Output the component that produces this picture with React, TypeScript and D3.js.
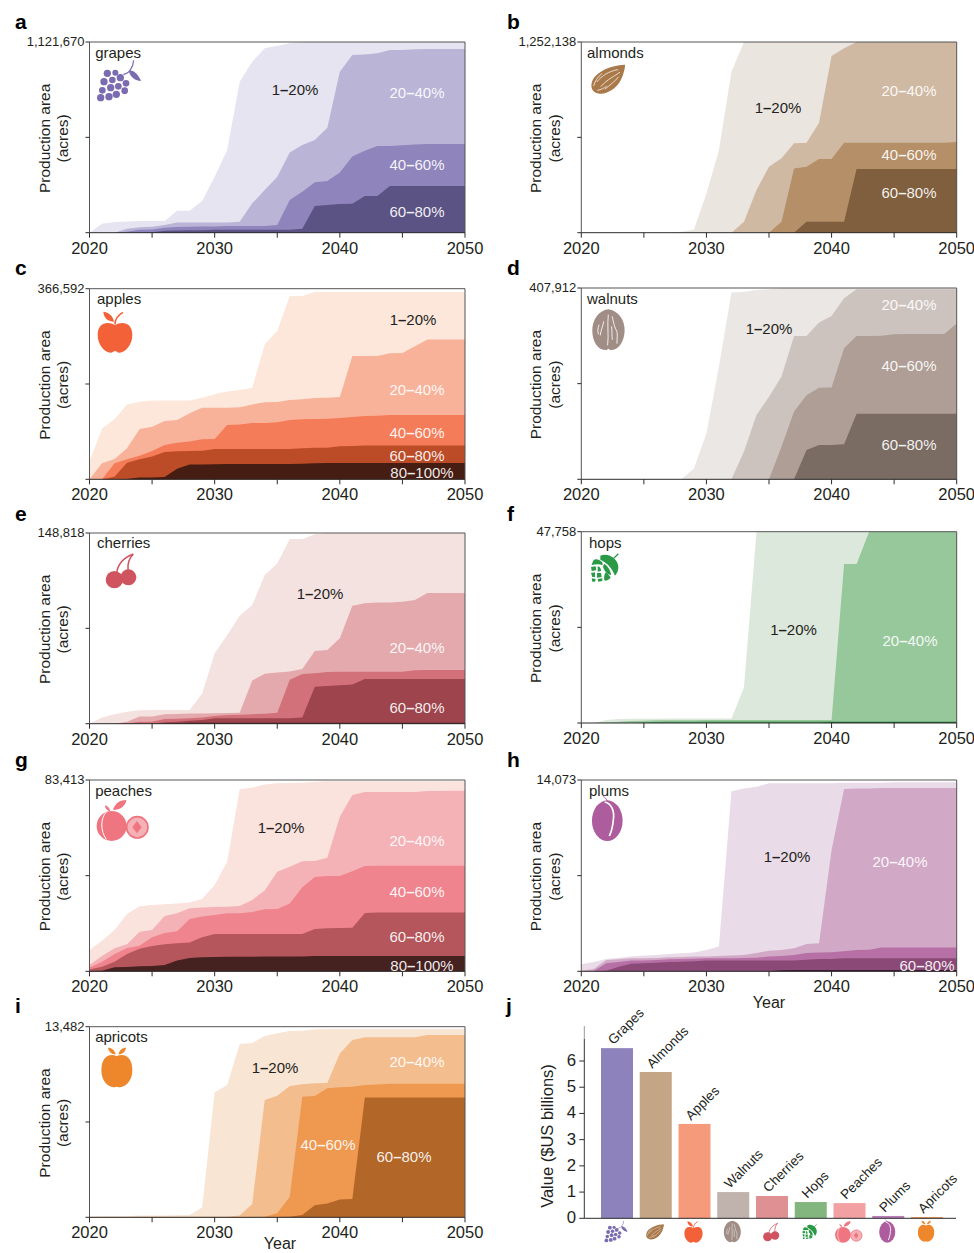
import * as d3 from "d3";

const FONT = "'Liberation Sans', Arial, sans-serif";
const INK = "#231f20";
const YEARS = d3.range(2020, 2051);
const X_TICKS = [2020, 2025, 2030, 2035, 2040, 2045, 2050];
const X_LABELS = [2020, 2030, 2040, 2050];

// upper edge of every class, percent of the panel's axis maximum
const grapes1 = [0,4.7,5.6,5.9,6.1,6.1,6.1,11.5,11.5,16.6,29.4,43.4,79.2,89.7,96.7,98,99.3,100,100,100,100,100,100,100,100,100,100,100,100,100,100];
const grapes2 = [0,0,0,2.1,2.8,3.1,4,5.4,5.4,5.4,5.4,5.4,5.8,15.4,22.4,29.4,42.1,46,48.6,55,84.4,93.2,93.5,94.1,95.8,95.8,96.2,96.3,96.3,96.3,96.3];
const grapes3 = [0,0,0,0.5,1.5,1.7,2.6,3,3.1,3.3,3.3,3.5,3.5,3.5,3.5,4,17.1,21.5,26.4,27.1,31.6,39.9,43,45.5,45.5,45.8,46.3,46.5,46.5,46.5,46.5];
const grapes4 = [0,0,0,0,0,0.2,1,1.2,1.3,1.3,1.5,1.5,1.5,1.5,1.5,1.5,1.5,2.1,14,14.5,15,15.2,19.2,19.2,24.5,24.5,24.5,24.5,24.5,24.5,24.5];

const almonds1 = [0,0,0,0,0,0,0,0,0.5,1.6,20.6,43.4,84.4,100,100,100,100,100,100,100,100,100,100,100,100,100,100,100,100,100,100];
const almonds2 = [0,0,0,0,0,0,0,0,0,0,0,0,0,5.8,22.4,34.6,39,46.9,47.2,57.7,92.7,96.7,100,100,100,100,100,100,100,100,100];
const almonds3 = [0,0,0,0,0,0,0,0,0,0,0,0,0,0,0,0,5.8,33.7,34.6,38.6,38.6,47.2,47.2,47.2,47.2,47.2,47.2,47.2,47.2,47.2,47.6];
const almonds4 = [0,0,0,0,0,0,0,0,0,0,0,0,0,0,0,0,0,0,5.8,5.8,5.8,5.8,33.4,33.4,33.4,33.4,33.4,33.4,33.4,33.4,33.4];

const apples1 = [9.3,26.7,31.5,39.3,40.7,41.3,41.4,41.4,41.4,42.8,44.6,46,46.9,48,70.8,78,96.2,96.2,98.3,98.3,98.3,98.3,98.3,98.3,98.3,98.3,98.3,98.3,98.3,98.3,98.3];
const apples2 = [0,8.4,10.7,16.3,26.4,27.6,30.6,31.1,34.6,37.6,37.6,37.6,37.8,39.3,40.4,40.6,41.6,42,42.7,42.8,43.2,64.7,64.7,64.7,66.1,66.3,69.8,73.3,73.3,73.3,73.3];
const apples3 = [0,0,8.4,10.5,12.4,14.9,18,19.2,19.8,21,21.2,28.5,28.8,29.5,29.5,29.9,31.1,31.5,31.6,31.8,32.2,32.7,33.2,33.4,33.7,33.7,33.7,33.7,33.7,33.7,33.7];
const apples4 = [0,0,1.4,8.7,10.5,11.9,14.3,14.7,14.9,15,15.9,15.9,15.9,15.9,15.9,15.9,15.9,16.3,16.6,16.6,17.3,17.5,17.7,17.7,17.7,17.7,17.7,17.7,17.7,17.7,17.7];
const apples5 = [0,0,0,0.2,0.9,0.9,1.2,5.6,7.7,7.7,7.9,8,8,8,8,8,8,8.2,8.4,8.6,8.6,8.6,8.6,8.6,8.6,8.6,8.6,8.6,8.6,8.6,8.6];

const walnuts1 = [0,0,0,0,0,0,0,0,0,5.7,24,58.9,97.7,98,99,99.3,100,100,100,100,100,100,100,100,100,100,100,100,100,100,100];
const walnuts2 = [0,0,0,0,0,0,0,0,0,0,0,0,0,14.5,33.6,43.2,53.7,74.9,74.9,82,85.4,94.6,99.3,99.3,99.3,99.3,99.3,99.3,99.3,99.3,99.3];
const walnuts3 = [0,0,0,0,0,0,0,0,0,0,0,0,0,0,0,0,17,35.4,44,47.9,48,68.5,74.9,74.9,75,75.8,76,76,76,76,81.5];
const walnuts4 = [0,0,0,0,0,0,0,0,0,0,0,0,0,0,0,0,0,0,15.3,17.9,17.9,18.3,34.3,34.3,34.3,34.3,34.3,34.3,34.3,34.3,34.3];

const cherries1 = [0,3.3,5,6.3,7,7.2,7.2,7.2,7.2,15.9,36.9,46.5,56.6,62.2,78,84,96.9,96.9,99.3,100,100,100,100,100,100,100,100,100,100,100,100];
const cherries2 = [0,0,0,1,3.8,3.8,4.9,5.1,5.3,5.4,5.5,5.6,5.8,22.6,26.2,26.9,27.4,28.7,38.1,38.6,44.8,61.9,63.1,63.6,63.6,64,64.9,68.5,68.5,68.5,68.5];
const cherries3 = [0,0,0,0.3,1,1,2.4,2.6,2.8,3.3,4,4.5,4.7,5,5.2,5.8,23.1,26,26.4,27.1,27.3,27.3,27.3,27.3,27.3,27.3,28,28.1,28.1,28.1,28.1];
const cherries4 = [0,0,0,0,0,0,0.7,1,1.5,2,2.8,2.8,2.8,2.8,2.8,2.8,2.8,3.3,19.4,19.8,20.1,20.5,23.4,23.4,23.4,23.4,23.4,23.4,23.4,23.4,23.4];
const cherries5 = [0,0,0,0,0,0,0,0.2,0.5,0.5,0.5,0.5,0.5,0.5,0.5,0.5,0.5,0.5,0.5,0.5,0.5,0.5,0.5,0.5,0.5,0.5,0.5,0.5,0.5,0.5,0.5];

const hops1 = [0,0,1.6,2.1,2.2,2.2,2.2,2.3,2.3,2.3,2.3,2.3,2.3,18.5,100,100,100,100,100,100,100,100,100,100,100,100,100,100,100,100,100];
const hops2 = [0,0,0.3,0.7,1,1.2,1.4,1.5,1.5,1.5,1.6,1.6,1.6,1.6,1.6,1.6,1.6,1.6,1.6,1.6,1.6,83.1,83.1,100,100,100,100,100,100,100,100];
const hops3 = [0,0,0,0,0,0.3,0.5,0.6,0.7,0.7,0.8,0.8,0.8,0.8,0.8,0.8,0.8,0.8,0.8,0.8,0.8,0.8,0.8,0.8,0.8,0.8,0.8,0.8,0.8,0.8,0.8];
const hops4 = [0,0,0,0,0,0,0,0,0,0,0,0,0,0,0,0,0,0,0,0,0.4,0.4,0.4,0.4,0.4,0.4,0.4,0.4,0.4,0.4,0.4];

const peaches1 = [11.1,16,21.6,30,34,34.7,35.1,35.5,35.9,37.8,45.1,57.3,95.1,96,97.6,98.3,98.4,98.6,99.1,99.3,99.3,99.3,99.3,99.3,99.3,99.3,99.3,99.3,99.3,99.3,99.3];
const peaches2 = [3.3,8,12,14.1,20.7,21.6,28.9,30.3,32.9,33.4,33.6,33.8,34.1,37.3,42.2,52.1,54.7,57.5,57.7,59.4,80.8,92.2,93.7,93.7,93.7,93.7,93.7,94.3,94.3,94.4,94.4];
const peaches3 = [2,5,9,12.2,13.4,17.8,20,21,27.4,28.7,29.4,30.3,30.3,31,32.4,32.6,35.5,43.9,49.3,49.8,49.8,52.3,55,55.2,55.2,55.2,55.2,55.2,55.2,55.2,55.2];
const peaches4 = [1,2.4,5,9,11.8,13.2,14.1,14.6,15,17.8,19.5,19.5,19.5,19.5,19.5,19.5,19.5,19.5,22.1,22.5,22.6,22.8,30.5,30.8,30.8,30.8,30.8,30.8,30.8,30.8,30.8];
const peaches5 = [0.2,0.3,2.1,2.3,2.6,2.8,3.3,5.6,7,7.3,7.5,7.6,7.6,7.6,7.7,7.7,7.7,7.8,8,8,8,8,8,8,8,8,8,8,8,8,8];

const plums1 = [3.7,4.9,6.4,7.1,7.7,8.2,8.5,9,9.4,9.8,11.1,12.9,94.1,95.6,96.5,98.3,98.3,98.3,98.3,98.3,98.3,98.6,98.6,98.6,98.6,98.8,98.8,98.8,98.8,98.8,98.8];
const plums2 = [0.3,1.2,5.9,6.3,6.8,6.8,7,7.3,7.5,7.7,7.8,8,8.2,8.5,9.6,10.8,11.1,12,14.3,14.6,63.4,95.3,95.5,95.6,95.8,95.8,95.8,95.8,95.8,95.8,95.8];
const plums3 = [0,0.2,4.2,4.9,5.6,5.7,5.9,6.3,6.4,6.6,6.8,6.8,6.8,7,7.1,7.7,8,8.5,9.6,9.8,9.9,10.5,11.1,11.3,12.4,12.4,12.4,12.4,12.4,12.4,12.4];
const plums4 = [0,0,0.3,2.4,4,4.2,4.5,4.9,5,5.2,5.6,5.7,5.7,5.7,5.7,5.7,5.7,5.7,6.1,6.4,6.4,6.8,6.8,6.8,6.8,6.8,6.8,6.8,6.8,6.8,6.8];
const plums5 = [0,0,0,0,0,0,0,0,0,0,0,0,0,0,0,0,0.5,0.7,0.7,0.7,0.7,0.7,0.7,0.7,0.7,0.7,0.7,0.7,0.7,0.7,0.7];

const apricots1 = [0.3,0.5,0.5,0.5,0.9,0.9,1,1.1,1.2,5.2,65.6,69.4,90.9,91.4,95.1,96.5,97.7,97.9,98.6,98.8,98.8,98.8,98.8,98.8,98.8,98.8,98.8,98.8,98.8,98.8,98.8];
const apricots2 = [0,0.1,0.2,0.2,0.3,0.3,0.3,0.3,0.3,0.3,0.3,0.3,0.9,7,61.5,63.8,68.9,69.8,70.3,70.5,86,93,94.4,94.4,94.4,94.4,94.4,95.6,95.6,95.6,95.6];
const apricots3 = [0.2,0.2,0.2,0.2,0.2,0.2,0.2,0.2,0.2,0.2,0.2,0.2,0.2,0.2,0.3,2.1,10.8,63.3,63.6,67.7,68.2,68.5,69.4,69.7,70.1,70.1,70.1,70.1,70.1,70.1,70.1];
const apricots4 = [0.1,0.1,0.1,0.1,0.1,0.1,0.1,0.1,0.1,0.1,0.1,0.1,0.1,0.1,0.1,0.1,0.3,1.2,6.3,7.3,9.4,9.6,62.8,62.8,62.8,62.8,62.8,62.8,62.8,62.8,62.8];

// panel j
const CROPS = ["Grapes", "Almonds", "Apples", "Walnuts", "Cherries", "Hops", "Peaches", "Plums", "Apricots"];
const CROP_VALUES = [6.49, 5.58, 3.6, 1.0, 0.85, 0.62, 0.58, 0.09, 0.05];
const CROP_COLORS = ["#8e82bc", "#c4a585", "#f59a7a", "#c0b2ac", "#de9093", "#83b67e", "#f2a0a2", "#b87fb6", "#ee9b60"];
const VALUE_TICKS = [0, 1, 2, 3, 4, 5, 6];

const CLASS_NAMES = [["1", "20%"], ["20", "40%"], ["40", "60%"], ["60", "80%"], ["80", "100%"]];

const COL_L = [89.5, 465];
const COL_R = [581.3, 956.7];

const PANELS = [
  { letter: "a", lx: 15, ly: 29, name: "grapes", icon: "grapes", max: "1,121,670", xr: COL_L, yr: [232.7, 42], tx: 95.2, ty: 58, ix: 119, iy: 81,
    series: [grapes1, grapes2, grapes3, grapes4], colors: ["#e6e4f1", "#bab4d7", "#8f84bb", "#5c5385"],
    labels: [[0, 295, 90], [1, 417, 93], [2, 417, 165], [3, 417, 212]] },
  { letter: "b", lx: 507, ly: 29, name: "almonds", icon: "almonds", max: "1,252,138", xr: COL_R, yr: [232.7, 42], tx: 587, ty: 58, ix: 607.7, iy: 79,
    series: [almonds1, almonds2, almonds3, almonds4], colors: ["#ebe5df", "#cfb9a3", "#b58f68", "#7f5f3e"],
    labels: [[0, 778, 108], [1, 909, 91], [2, 909, 155], [3, 909, 193]] },
  { letter: "c", lx: 15, ly: 275, name: "apples", icon: "apples", max: "366,592", xr: COL_L, yr: [479.3, 288.7], tx: 97, ty: 304, ix: 115, iy: 331.7,
    series: [apples1, apples2, apples3, apples4, apples5], colors: ["#fde7da", "#f9b29a", "#f47c58", "#bc4c28", "#451d12"],
    labels: [[0, 413, 320], [1, 417, 390], [2, 417, 433], [3, 417, 456], [4, 422, 473]] },
  { letter: "d", lx: 507, ly: 275, name: "walnuts", icon: "walnuts", max: "407,912", xr: COL_R, yr: [479.3, 288], tx: 587, ty: 304, ix: 608.3, iy: 330,
    series: [walnuts1, walnuts2, walnuts3, walnuts4], colors: ["#eae7e4", "#cdc3be", "#ae9e95", "#7b6c63"],
    labels: [[0, 769, 328.5], [1, 909, 305], [2, 909, 366], [3, 909, 445]] },
  { letter: "e", lx: 15, ly: 521, name: "cherries", icon: "cherries", max: "148,818", xr: COL_L, yr: [723.7, 533], tx: 97, ty: 548, ix: 120.7, iy: 570,
    series: [cherries1, cherries2, cherries3, cherries4, cherries5], colors: ["#f4e2e0", "#e4a9ad", "#d3717b", "#9e444d", "#4d1e22"],
    labels: [[0, 320, 594], [1, 417, 647.5], [3, 417, 708]] },
  { letter: "f", lx: 507, ly: 521, name: "hops", icon: "hops", max: "47,758", xr: COL_R, yr: [723, 531.7], tx: 589, ty: 548, ix: 605, iy: 567.7,
    series: [hops1, hops2, hops3, hops4], colors: ["#dde8dc", "#97c89c", "#4c9f5a", "#1c5a2c"],
    labels: [[0, 793.5, 630], [1, 910, 641]] },
  { letter: "g", lx: 15, ly: 767, name: "peaches", icon: "peaches", max: "83,413", xr: COL_L, yr: [971.3, 780], tx: 95.2, ty: 796, ix: 122.3, iy: 820,
    series: [peaches1, peaches2, peaches3, peaches4, peaches5], colors: ["#fae2dd", "#f5b2b6", "#ef848e", "#b5565c", "#45211f"],
    labels: [[0, 281, 827.5], [1, 417, 840.5], [2, 417, 891.5], [3, 417, 937], [4, 422, 966]] },
  { letter: "h", lx: 507, ly: 767, name: "plums", icon: "plums", max: "14,073", xr: COL_R, yr: [971.3, 780], tx: 589, ty: 796, ix: 607.3, iy: 820,
    series: [plums1, plums2, plums3, plums4, plums5], colors: ["#e9dce8", "#d1a8c6", "#b770a5", "#8a4977", "#381a30"],
    labels: [[0, 787, 857], [1, 900, 862], [3, 927, 966]], year: 1008, yearX: 769 },
  { letter: "i", lx: 15, ly: 1013, name: "apricots", icon: "apricots", max: "13,482", xr: COL_L, yr: [1217.3, 1026.7], tx: 95.2, ty: 1042, ix: 116.7, iy: 1068.3,
    series: [apricots1, apricots2, apricots3, apricots4], colors: ["#f9e5d4", "#f4bd8e", "#ee9850", "#b26628"],
    labels: [[0, 275, 1068], [1, 417, 1062], [2, 328, 1145], [3, 404, 1156.5]], year: 1249.4, yearX: 280 },
];

const GRAPE_DOTS = [[-35, -23, 11], [-11, -25, 9], [-45, 2, 11], [-20, -3, 10], [4, -10, 11], [21, 7, 10], [-50, 28, 10], [-25, 20, 11], [-2, 16, 10], [17, 29, 10], [-55, 50, 11], [-30, 47, 11], [-8, 40, 11]];

const HOP_SCALES = [
  "M-14,-36 C6,-46 38,-30 40,-4 C41,8 36,18 30,24 C24,8 10,-14 -14,-24Z",
  "M-36,-20 C-30,-28 -22,-26 -10,-18 C-6,-14 -6,-10 -8,-8 C-18,-12 -30,-10 -40,-8Z",
  "M-2,-12 C8,-6 18,10 18,22 C8,22 -4,10 -6,-4Z",
  "M2,14 C10,20 18,28 16,32 C8,40 0,40 -2,38 C-4,28 -2,20 2,14Z",
  "M-42,-2 L-28,-4 L-26,8 L-40,10Z",
  "M-22,-4 C-14,-4 -12,6 -12,10 L-22,12Z",
  "M-42,16 L-30,14 L-30,28 L-38,28Z",
  "M-24,16 L-12,16 L-10,28 L-24,30Z",
  "M-40,32 L-28,34 L-30,42 L-38,42Z",
  "M-22,34 L-8,32 L-8,40 L-20,42Z",
];

// icons are drawn in zoomed units around their centre, s scales them down
function Icon({ kind, x, y, s = 1 / 3 }: { kind: string; x: number; y: number; s?: number }) {
  const t = `translate(${x},${y}) scale(${s})`;
  if (kind === "grapes") {
    return (
      <g transform={t} fill="#7b6bb0">
        {GRAPE_DOTS.map((d, i) => <circle key={i} cx={d[0]} cy={d[1]} r={d[2]} />)}
        <path d="M13,-20 C30,-22 42,-40 44,-62" fill="none" stroke="#7b6bb0" strokeWidth={3.5} />
        <path d="M30,-30 C40,-36 58,-20 66,0 C50,0 32,-12 30,-30Z" />
      </g>
    );
  }
  if (kind === "almonds") {
    return (
      <g transform={t}>
        <path d="M52,-43 C20,-42 -20,-30 -40,-5 C-55,15 -52,42 -25,44 C5,46 35,20 45,-10 C50,-25 52,-35 52,-43Z" fill="#a9794a" />
        <g fill="none" stroke="#fff" strokeWidth={2.2} strokeLinecap="round">
          <path d="M30,-28 C5,-24 -18,-10 -32,8" />
          <path d="M36,-20 C20,-8 0,0 -20,22" />
          <path d="M32,-6 C22,8 6,18 -8,30" />
          <path d="M-42,20 C-38,6 -30,-6 -18,-16" />
          <path d="M-30,34 C-20,32 -12,28 -4,22" />
        </g>
      </g>
    );
  }
  if (kind === "apples") {
    return (
      <g transform={t} fill="#f26138">
        <path d="M0,-20 C-20,-32 -52,-30 -52,10 C-52,40 -30,63 -14,63 C-6,63 -4,58 0,58 C4,58 6,63 14,63 C30,63 52,40 52,10 C52,-30 20,-32 0,-20Z" />
        <path d="M-35,-60 C-20,-58 -6,-48 -3,-30 C-20,-30 -34,-40 -35,-60Z" />
        <path d="M0,-22 C0,-34 6,-48 24,-58" fill="none" stroke="#f26138" strokeWidth={5} />
      </g>
    );
  }
  if (kind === "walnuts") {
    return (
      <g transform={t}>
        <path d="M0,-62 C30,-58 50,-30 49,2 C48,36 30,60 8,60 C4,60 2,56 0,56 C-2,56 -4,60 -8,60 C-30,60 -48,36 -48,2 C-48,-30 -30,-58 0,-62Z" fill="#a08d85" />
        <g fill="none" stroke="#fff" strokeWidth={2.5} strokeLinecap="round">
          <path d="M0,-45 C-4,-15 2,15 -2,45" />
          <path d="M12,-40 C16,-20 18,-10 26,5 C28,15 26,25 26,40" />
          <path d="M-14,-25 C-16,-10 -22,-2 -24,15" />
          <path d="M-28,-15 C-32,-5 -32,5 -30,12" />
          <path d="M10,-10 C12,5 10,15 12,28" />
        </g>
      </g>
    );
  }
  if (kind === "cherries") {
    return (
      <g transform={t} fill="#cf5460">
        <circle cx={-19} cy={29} r={26} />
        <circle cx={23} cy={22} r={24} />
        <path d="M-12,8 C-8,-18 10,-38 38,-48 M22,0 C20,-18 26,-36 38,-48" fill="none" stroke="#cf5460" strokeWidth={4.5} />
      </g>
    );
  }
  if (kind === "hops") {
    return (
      <g transform={t} fill="#2a9a47">
        {HOP_SCALES.map((d, i) => <path key={i} d={d} />)}
        <path d="M26,-28 L40,-42" stroke="#2a9a47" strokeWidth={4} />
      </g>
    );
  }
  if (kind === "peaches") {
    return (
      <g transform={t}>
        <circle cx={-32} cy={18} r={45} fill="#ef7580" />
        <path d="M-48,-24 C-66,-6 -66,34 -48,58" fill="none" stroke="#fff" strokeWidth={3} />
        <path d="M-28,-30 C-22,-48 -10,-60 12,-60 C10,-42 -6,-30 -28,-30Z M-52,-44 C-44,-42 -38,-36 -36,-26 C-46,-28 -52,-34 -52,-44Z" fill="#ef7580" />
        <circle cx={45} cy={22} r={32} fill="#f5b2b6" stroke="#ef7580" strokeWidth={5} />
        <path d="M44,3 L58,22 L44,40 L30,22Z" fill="#ef7580" />
      </g>
    );
  }
  if (kind === "plums") {
    return (
      <g transform={t}>
        <ellipse cx={0} cy={2} rx={46} ry={61} fill="#ad5c9d" />
        <path d="M-8,-54 C14,-50 22,-25 18,0 C16,25 10,40 6,48" fill="none" stroke="#fff" strokeWidth={5} />
        <path d="M-12,-70 C-6,-68 -2,-62 0,-56" fill="none" stroke="#ad5c9d" strokeWidth={3} />
      </g>
    );
  }
  return (
    <g transform={t} fill="#ee862c">
      <path d="M0,-36 C-20,-46 -46,-36 -46,6 C-46,38 -26,57 -8,57 C-4,57 -2,55 0,55 C2,55 4,57 8,57 C26,57 47,38 47,6 C47,-36 20,-46 0,-36Z" />
      <path d="M-26,-62 C-14,-62 -6,-54 -3,-42 C-16,-42 -24,-50 -26,-62Z M28,-62 C16,-62 8,-54 5,-42 C18,-42 26,-50 28,-62Z" />
    </g>
  );
}

function AreaPanel({ p }: { p: (typeof PANELS)[number] }) {
  const x = d3.scaleLinear().domain([2020, 2050]).range(p.xr);
  const y = d3.scaleLinear().domain([0, 100]).range(p.yr);
  const area = d3
    .area<number>()
    .x((_, i) => x(YEARS[i]))
    .y0(y(0))
    .y1((d) => y(d));
  const [x0, x1] = p.xr;
  const [b, t] = p.yr;
  const midY = y(50);
  return (
    <g fontFamily={FONT}>
      <text x={p.lx} y={p.ly} fontSize={21} fontWeight="bold" fill="#000">{p.letter}</text>
      {p.series.map((s, i) => (
        <path key={i} d={area(s) ?? ""} fill={p.colors[i]} />
      ))}
      <path d={`M${x0},${b}V${t}H${x1}V${b}`} fill="none" stroke="#555" strokeWidth={1} />
      <line x1={x0} x2={x1} y1={b} y2={b} stroke="#2b2b2b" strokeWidth={1} />
      {[b, midY, t].map((v) => (
        <line key={v} x1={x0 - 4} x2={x0} y1={v} y2={v} stroke="#2b2b2b" strokeWidth={1} />
      ))}
      {X_TICKS.map((v) => (
        <line key={v} x1={x(v)} x2={x(v)} y1={b} y2={b + 5} stroke="#2b2b2b" strokeWidth={1} />
      ))}
      {X_LABELS.map((v) => (
        <text key={v} x={x(v)} y={b + 21} fontSize={16.5} textAnchor="middle" fill={INK}>{v}</text>
      ))}
      <text x={x0 - 5} y={t + 4} fontSize={13} textAnchor="end" fill={INK}>{p.max}</text>
      <g transform={`translate(${x0 - 45.5},${(b + t) / 2 + 1}) rotate(-90)`}>
        <text y={5.5} fontSize={15.5} textAnchor="middle" fill={INK}>Production area</text>
        <text y={24} fontSize={15.5} textAnchor="middle" fill={INK}>(acres)</text>
      </g>
      <text x={p.tx} y={p.ty} fontSize={15} fill={INK}>{p.name}</text>
      <Icon kind={p.icon} x={p.ix} y={p.iy} />
      {p.labels.map(([c, lx, ly]) => (
        <text key={c} x={lx} y={ly + 5.3} fontSize={15} textAnchor="middle" fill={c === 0 ? INK : "#fff"} fillOpacity={c === 0 ? 1 : 0.92}>
          {CLASS_NAMES[c][0]}<tspan fontWeight="bold">–</tspan>{CLASS_NAMES[c][1]}
        </text>
      ))}
      {p.year && <text x={p.yearX} y={p.year} fontSize={16} textAnchor="middle" fill={INK}>Year</text>}
    </g>
  );
}

function BarPanel() {
  const x = d3.scaleBand().domain(CROPS).range([601, 943]).paddingInner(0.174).paddingOuter(0);
  const y = d3.scaleLinear().domain([0, 6]).range([1218.3, 1061]);
  const bw = x.bandwidth();
  return (
    <g fontFamily={FONT}>
      <text x={506} y={1013} fontSize={21} fontWeight="bold" fill="#000">j</text>
      {CROPS.map((c, i) => (
        <rect key={c} x={x(c)} y={y(CROP_VALUES[i])} width={bw} height={y(0) - y(CROP_VALUES[i])} fill={CROP_COLORS[i]} />
      ))}
      {CROPS.map((c, i) => {
        const cx = (x(c) ?? 0) + bw / 2;
        const ty = y(CROP_VALUES[i]) - 3;
        return (
          <text key={c} transform={`translate(${cx - 3.5},${ty}) rotate(-45)`} fontSize={13.5} fill={INK}>{c}</text>
        );
      })}
      <line x1={584.3} x2={584.3} y1={1026} y2={1039} stroke="#999" strokeWidth={1} />
      <line x1={584.3} x2={584.3} y1={1039} y2={1218.3} stroke="#333" strokeWidth={1} />
      <line x1={584.3} x2={956} y1={1218.3} y2={1218.3} stroke="#2b2b2b" strokeWidth={1} />
      {VALUE_TICKS.map((v) => (
        <g key={v}>
          <line x1={579.3} x2={584.3} y1={y(v)} y2={y(v)} stroke="#2b2b2b" strokeWidth={1} />
          <text x={576} y={y(v) + 5} fontSize={16.8} textAnchor="end" fill={INK}>{v}</text>
        </g>
      ))}
      <text transform="translate(553,1136) rotate(-90)" fontSize={16.5} textAnchor="middle" fill={INK}>Value ($US billions)</text>
      {CROPS.map((c) => (
        <Icon key={c} kind={c.toLowerCase()} x={(x(c) ?? 0) + bw / 2 - 1} y={1231.7} s={0.175} />
      ))}
    </g>
  );
}

export default function App() {
  return (
    <svg width={974} height={1253} viewBox="0 0 974 1253" style={{ position: "absolute", left: 0, top: 0, display: "block" }}>
      <rect width={974} height={1253} fill="#fff" />
      {PANELS.map((p) => (
        <AreaPanel key={p.letter} p={p} />
      ))}
      <BarPanel />
    </svg>
  );
}
